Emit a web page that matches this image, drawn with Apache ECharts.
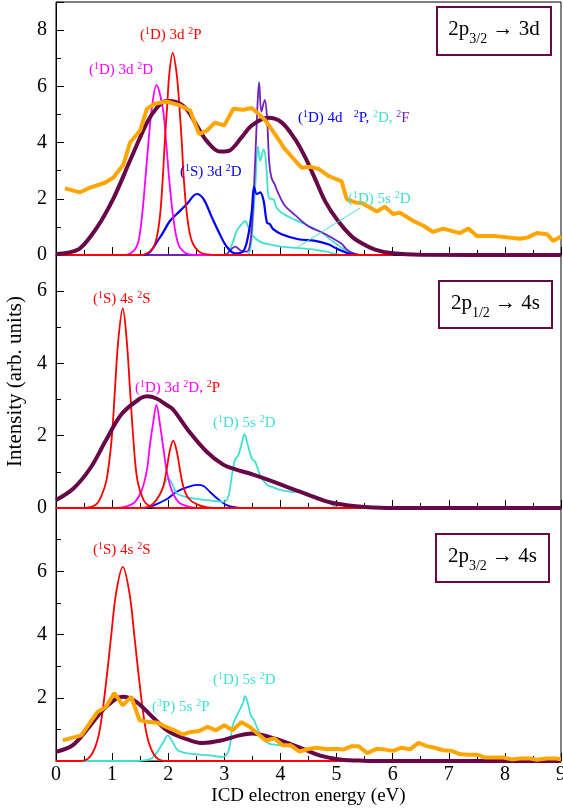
<!DOCTYPE html>
<html><head><meta charset="utf-8">
<script src="https://cdn.jsdelivr.net/npm/echarts@6/dist/echarts.min.js"></script>
<style>html,body{margin:0;padding:0;background:#fff}#c{width:563px;height:812px}</style>
</head><body><div id="c"></div>
<script>
// ---------------- DATA (energy eV, intensity arb. units) ----------------
// Panel 1 : 2p3/2 -> 3d
const p1Exp = [[0.16,2.37],[0.43,2.23],[0.61,2.4],[0.87,2.57],[1.02,2.75],[1.2,3.21],[1.32,4.0],[1.5,4.43],[1.62,5.2],[1.76,5.38],[1.97,5.46],[2.21,5.32],[2.39,5.14],[2.55,4.3],[2.69,4.43],[2.83,4.71],[3.0,4.61],[3.16,5.2],[3.34,5.17],[3.49,5.23],[3.58,5.08],[3.73,4.79],[3.9,4.31],[4.08,3.77],[4.26,3.36],[4.38,3.1],[4.53,3.14],[4.68,3.06],[4.85,2.82],[5.09,2.62],[5.18,1.99],[5.33,1.87],[5.45,1.85],[5.72,1.55],[5.86,1.72],[6.01,1.46],[6.13,1.5],[6.37,1.21],[6.55,1.04],[6.72,0.82],[6.9,0.94],[7.2,0.78],[7.35,0.94],[7.5,0.68],[7.79,0.68],[8.27,0.58],[8.4,0.62],[8.57,0.78],[8.75,0.74],[8.86,0.5],[9.0,0.66]];
const p1Total = [[0,0.03],[0.2,0.08],[0.43,0.24],[0.72,0.95],[1.02,2.0],[1.32,3.36],[1.62,4.7],[1.79,5.22],[1.96,5.48],[2.15,5.44],[2.33,5.18],[2.51,4.6],[2.69,4.05],[2.92,3.68],[3.07,3.7],[3.31,4.19],[3.49,4.61],[3.78,4.88],[4.02,4.72],[4.26,4.12],[4.44,3.48],[4.62,2.7],[4.8,1.9],[5.03,1.2],[5.27,0.66],[5.45,0.42],[5.7,0.18],[6.0,0.06],[6.5,0.01],[9,0]];
const p1Mag3d2D = [[0,0],[1.2,0],[1.38,0.14],[1.47,0.5],[1.53,1.33],[1.59,2.64],[1.65,4.07],[1.71,5.26],[1.79,6.04],[1.9,5.26],[1.96,4.07],[2.02,2.64],[2.09,1.33],[2.18,0.38],[2.3,0.08],[2.45,0],[6,0]];
const p1Red3d2P = [[0,0],[1.5,0],[1.68,0.14],[1.78,0.5],[1.85,1.33],[1.9,2.64],[1.94,4.07],[1.98,5.26],[2.02,6.45],[2.08,7.19],[2.15,6.45],[2.2,5.26],[2.24,4.07],[2.28,2.64],[2.34,1.33],[2.42,0.5],[2.54,0.14],[2.7,0.02],[2.9,0],[6,0]];
const p1Blue = [[0,0],[1.56,0],[1.85,0.62],[2.03,1.21],[2.21,1.57],[2.33,1.81],[2.51,2.17],[2.63,1.99],[2.78,1.33],[2.92,0.74],[3.04,0.3],[3.19,0.06],[3.34,0.14],[3.43,0.74],[3.49,1.57],[3.53,2.42],[3.58,2.17],[3.64,2.23],[3.7,1.93],[3.76,1.15],[3.81,1.1],[3.87,0.92],[4.02,0.74],[4.32,0.56],[4.62,0.5],[4.85,0.38],[5.03,0.2],[5.21,0.06],[5.4,0],[6,0]];
const p1Violet4d2F = [[0,0],[3.0,0],[3.1,0.15],[3.19,0.3],[3.3,0.15],[3.4,0.12],[3.45,0.3],[3.49,0.98],[3.55,3.36],[3.59,5.3],[3.62,6.15],[3.66,5.1],[3.72,5.52],[3.76,4.9],[3.8,3.3],[3.84,2.75],[3.9,2.5],[3.96,2.2],[4.08,1.75],[4.26,1.42],[4.5,1.02],[4.74,0.8],[4.91,0.62],[5.09,0.4],[5.18,0.2],[5.3,0.06],[5.45,0],[6,0]];
const p1Cyan4d2D = [[0,0],[3.4,0],[3.47,0.3],[3.52,1.5],[3.55,2.4],[3.6,3.85],[3.64,3.35],[3.7,3.76],[3.74,3.36],[3.78,2.17],[3.81,2.0],[3.87,1.99],[3.93,1.69],[4.02,1.5],[4.26,1.25],[4.5,1.04],[4.74,0.8],[4.91,0.52],[5.09,0.26],[5.27,0.06],[5.4,0],[6,0]];
const p1Cyan5s2D = [[0,0],[3.0,0],[3.07,0.08],[3.16,0.5],[3.22,0.86],[3.31,1.1],[3.37,1.21],[3.43,0.98],[3.49,0.74],[3.58,0.55],[3.67,0.44],[3.85,0.36],[4.02,0.3],[4.3,0.25],[4.53,0.21],[4.7,0.16],[4.83,0.12],[4.95,0.05],[5.1,0],[6,0]];

// Panel 2 : 2p1/2 -> 4s
const p2Total = [[0,0.22],[0.31,0.54],[0.61,1.1],[0.9,1.9],[1.17,2.6],[1.5,3.03],[1.62,3.09],[1.79,3.03],[1.97,2.85],[2.09,2.72],[2.36,2.14],[2.69,1.55],[2.98,1.2],[3.2,1.07],[3.5,0.93],[3.87,0.73],[4.17,0.55],[4.35,0.45],[4.59,0.31],[4.88,0.16],[5.18,0.08],[5.5,0.03],[6,0],[9,0]];
const p2Red4s2S = [[0,0],[0.5,0],[0.7,0.08],[0.8,0.3],[0.9,0.77],[0.99,1.88],[1.05,3.26],[1.11,4.64],[1.19,5.52],[1.26,4.64],[1.32,3.26],[1.38,1.88],[1.45,0.77],[1.56,0.22],[1.67,0.05],[1.8,0],[6,0]];
const p2Red3d2P = [[0,0],[1.5,0],[1.67,0.05],[1.79,0.22],[1.91,0.59],[1.97,1.05],[2.03,1.6],[2.09,1.86],[2.16,1.51],[2.21,1.05],[2.27,0.59],[2.36,0.27],[2.51,0.1],[2.7,0.02],[2.9,0],[6,0]];
const p2Mag3d2D = [[0,0],[1.1,0],[1.27,0.05],[1.41,0.17],[1.53,0.5],[1.62,1.05],[1.67,1.69],[1.73,2.34],[1.79,2.85],[1.85,2.34],[1.91,1.69],[1.97,1.05],[2.06,0.5],[2.18,0.17],[2.33,0.05],[2.5,0],[6,0]];
const p2Cyan = [[0,0],[1.5,0],[1.68,0.06],[1.85,0.36],[2.0,0.82],[2.08,0.64],[2.15,0.41],[2.33,0.3],[2.57,0.24],[2.8,0.2],[2.98,0.17],[3.07,0.31],[3.13,0.86],[3.19,1.33],[3.25,1.46],[3.31,1.79],[3.36,2.04],[3.41,1.79],[3.49,1.37],[3.55,1.28],[3.64,0.9],[3.76,0.64],[3.87,0.57],[3.99,0.5],[4.17,0.45],[4.35,0.44],[4.65,0.31],[4.88,0.13],[5.0,0.02],[5.2,0],[6,0]];
const p2Blue = [[0,0],[1.6,0],[1.68,0.03],[1.97,0.24],[2.15,0.45],[2.33,0.57],[2.51,0.64],[2.63,0.61],[2.74,0.45],[2.89,0.24],[3.04,0.08],[3.2,0.02],[3.4,0],[6,0]];

// Panel 3 : 2p3/2 -> 4s
const p3Exp = [[0.12,0.65],[0.45,0.81],[0.74,1.55],[0.89,1.71],[1.04,2.15],[1.19,1.76],[1.34,2.03],[1.49,1.29],[1.66,1.23],[1.81,1.21],[1.96,1.08],[2.11,0.97],[2.26,0.84],[2.41,0.92],[2.55,0.95],[2.7,1.08],[2.85,0.97],[3.0,1.13],[3.15,0.97],[3.3,1.23],[3.45,1.08],[3.59,0.87],[3.74,0.65],[3.89,0.71],[4.04,0.5],[4.18,0.5],[4.34,0.3],[4.5,0.38],[4.65,0.42],[4.83,0.37],[5.0,0.39],[5.12,0.36],[5.27,0.47],[5.39,0.47],[5.55,0.25],[5.72,0.39],[5.87,0.36],[6.01,0.32],[6.16,0.42],[6.31,0.37],[6.46,0.57],[6.61,0.47],[6.76,0.41],[6.9,0.34],[7.05,0.32],[7.21,0.21],[7.35,0.2],[7.5,0.2],[7.65,0.11],[7.79,0.11],[7.97,0.11],[8.12,0.05],[8.27,0.08],[8.45,0.08],[8.57,0.04],[8.75,0.08],[8.92,0.08],[9.0,0.05]];
const p3Total = [[0,0.29],[0.3,0.5],[0.59,1.08],[0.89,1.71],[1.19,2.03],[1.43,1.87],[1.72,1.39],[2.02,0.92],[2.38,0.66],[2.61,0.57],[2.97,0.66],[3.27,0.81],[3.5,0.87],[3.8,0.76],[4.16,0.55],[4.46,0.34],[4.71,0.17],[5.06,0.05],[5.47,0.01],[6,0],[9,0]];
const p3Red4s2S = [[0,0],[0.45,0],[0.6,0.12],[0.72,0.55],[0.8,1.2],[0.9,2.6],[0.98,3.9],[1.07,5.3],[1.19,6.14],[1.31,5.3],[1.4,3.9],[1.48,2.6],[1.58,1.2],[1.66,0.55],[1.78,0.12],[1.93,0],[6,0]];
const p3Cyan = [[0,0],[1.4,0],[1.6,0.03],[1.72,0.1],[1.9,0.55],[1.99,0.81],[2.08,0.6],[2.17,0.34],[2.38,0.23],[2.73,0.18],[2.97,0.13],[3.08,0.35],[3.15,1.13],[3.24,1.5],[3.33,1.82],[3.37,2.05],[3.42,1.82],[3.47,1.45],[3.53,1.29],[3.59,1.03],[3.68,0.71],[3.8,0.55],[3.98,0.5],[4.2,0.45],[4.4,0.38],[4.65,0.22],[4.88,0.08],[5.0,0.02],[5.2,0],[6,0]];

// axis settings
const xMin = 0, xMax = 9, xStep = 1;
const yMax = [9, 7, 8];
const yStep = 2;
const xTitle = 'ICD electron energy (eV)';
const yTitle = 'Intensity (arb. units)';

// ---------------- STYLE ----------------
const C = {red:'#ff0000', mag:'#ff00ff', blue:'#0000ff', cyan:'#40e0d0', violet:'#7221bc', maroon:'#670748', orange:'#ffa500'};
const FONT = 'Liberation Serif';
const gridTops = [2, 255, 508];
const gridH = 253;

const chart = echarts.init(document.getElementById('c'), null, {renderer:'canvas'});

function line(data, color, width, gi, smooth, z) {
  return {type:'line', xAxisIndex:gi, yAxisIndex:gi, data:data, showSymbol:false, symbol:'none',
    smooth: smooth ? 0.35 : false, lineStyle:{color:color, width:width}, z:z, silent:true, animation:false};
}

const grids = gridTops.map(t => ({left:56, top:t, width:505, height:gridH, show:true, borderColor:'#000', borderWidth:1,
  backgroundColor:'transparent', containLabel:false, outerBoundsMode:'none'}));
const xAxes = [0,1,2].map(i => ({
  type:'value', gridIndex:i, min:xMin, max:xMax, interval:xStep,
  axisLine:{show:true, onZero:false, lineStyle:{color:'#000', width:1}},
  axisTick:{show:true, inside:true, length:8, lineStyle:{color:'#000', width:1}},
  minorTick:{show:true, splitNumber:2, length:5, lineStyle:{color:'#000', width:1}},
  splitLine:{show:false}, minorSplitLine:{show:false},
  axisLabel:{show:i===2, color:'#000', fontFamily:FONT, fontSize:20, margin:4, hideOverlap:false},
  name: i===2 ? xTitle : '', nameLocation:'middle', nameGap:26,
  nameTextStyle:{color:'#000', fontFamily:FONT, fontSize:19}
}));
const yAxes = [0,1,2].map(i => ({
  type:'value', gridIndex:i, min:0, max:yMax[i], interval:yStep,
  axisLine:{show:true, onZero:false, lineStyle:{color:'#000', width:1}},
  axisTick:{show:true, inside:true, length:8, lineStyle:{color:'#000', width:1}},
  minorTick:{show:true, splitNumber:2, length:5, lineStyle:{color:'#000', width:1}},
  splitLine:{show:false}, minorSplitLine:{show:false},
  axisLabel:{color:'#000', fontFamily:FONT, fontSize:20, margin:9,
    formatter: v => (v === yMax[i] || (i === 2 && v === 0)) ? '' : String(v)},
  name: i===1 ? yTitle : '', nameLocation:'middle', nameGap:19, nameRotate:90,
  nameTextStyle:{color:'#000', fontFamily:FONT, fontSize:21}
}));

const series = [
  // panel 1
  line(p1Cyan5s2D, C.cyan, 1.8, 0, true, 2),
  line(p1Cyan4d2D, C.cyan, 1.8, 0, true, 2),
  line(p1Violet4d2F, C.violet, 1.8, 0, true, 2),
  line(p1Blue, C.blue, 2.2, 0, true, 3),
  line(p1Mag3d2D, C.mag, 1.8, 0, true, 3),
  line(p1Red3d2P, C.red, 1.8, 0, true, 3),
  line(p1Total, C.maroon, 4, 0, true, 4),
  line(p1Exp, C.orange, 4, 0, false, 5),
  // panel 2
  line(p2Blue, C.blue, 1.8, 1, true, 2),
  line(p2Cyan, C.cyan, 1.8, 1, true, 2),
  line(p2Mag3d2D, C.mag, 1.8, 1, true, 3),
  line(p2Red3d2P, C.red, 1.8, 1, true, 3),
  line(p2Red4s2S, C.red, 1.8, 1, true, 3),
  line(p2Total, C.maroon, 4, 1, true, 4),
  // panel 3
  line(p3Cyan, C.cyan, 1.8, 2, true, 2),
  line(p3Red4s2S, C.red, 1.8, 2, true, 3),
  line(p3Total, C.maroon, 4, 2, true, 4),
  line(p3Exp, C.orange, 4, 2, false, 5)
];

// ---------------- ANNOTATIONS ----------------
function tok(color, size, lh, va) {
  const o = {fill:color, color:color, fontFamily:FONT, fontSize:size, lineHeight:lh};
  if (va) o.verticalAlign = va;
  return o;
}
function labelRich(colors) {
  const r = {};
  for (const k in colors) {
    r[k] = tok(colors[k], 15, 18);
    r[k + 's'] = tok(colors[k], 10, 12, 'top');
  }
  return r;
}
const labels = [
  {x:140, y:35.5, text:'{r|(}{rs|1}{r|D) 3d }{rs|2}{r|P}', rich:labelRich({r:C.red})},
  {x:89, y:70.5, text:'{m|(}{ms|1}{m|D) 3d }{ms|2}{m|D}', rich:labelRich({m:C.mag})},
  {x:180, y:172, text:'{b|(}{bs|1}{b|S) 3d }{bs|2}{b|D}', rich:labelRich({b:C.blue})},
  {x:298, y:118, text:'{b|(}{bs|1}{b|D) 4d   }{bs|2}{b|P, }{cs|2}{c|D, }{vs|2}{v|F}', rich:labelRich({b:C.blue, c:C.cyan, v:C.violet})},
  {x:348, y:199.5, text:'{c|(}{cs|1}{c|D) 5s }{cs|2}{c|D}', rich:labelRich({c:C.cyan})},
  {x:93, y:299, text:'{r|(}{rs|1}{r|S) 4s }{rs|2}{r|S}', rich:labelRich({r:C.red})},
  {x:135, y:388, text:'{m|(}{ms|1}{m|D) 3d }{ms|2}{m|D, }{rs|2}{r|P}', rich:labelRich({m:C.mag, r:C.red})},
  {x:213, y:423, text:'{c|(}{cs|1}{c|D) 5s }{cs|2}{c|D}', rich:labelRich({c:C.cyan})},
  {x:93, y:550.5, text:'{r|(}{rs|1}{r|S) 4s }{rs|2}{r|S}', rich:labelRich({r:C.red})},
  {x:152, y:707, text:'{c|(}{cs|3}{c|P) 5s }{cs|2}{c|P}', rich:labelRich({c:C.cyan})},
  {x:213, y:680.5, text:'{c|(}{cs|1}{c|D) 5s }{cs|2}{c|D}', rich:labelRich({c:C.cyan})}
];
const boxes = [
  {x:437, y:7, w:114, h:48, sub:'3/2', tail:' \u2192 3d'},
  {x:439, y:281, w:113, h:47, sub:'1/2', tail:' \u2192 4s'},
  {x:436, y:534, w:113, h:48, sub:'3/2', tail:' \u2192 4s'}
];
const boxRich = {
  m: {fill:'#000', fontFamily:FONT, fontSize:21, lineHeight:34},
  s: {fill:'#000', fontFamily:FONT, fontSize:14, lineHeight:14, verticalAlign:'bottom'}
};

const graphic = [];
labels.forEach(l => graphic.push({type:'text', x:l.x, y:l.y, z:50, silent:true,
  style:{text:l.text, rich:l.rich, align:'left', verticalAlign:'middle', textAlign:'left', textVerticalAlign:'middle', fontFamily:FONT, fontSize:15}}));
boxes.forEach(b => {
  graphic.push({type:'rect', z:50, silent:true, shape:{x:b.x, y:b.y, width:b.w, height:b.h},
    style:{fill:'#fff', stroke:C.maroon, lineWidth:2}});
  graphic.push({type:'text', z:51, silent:true, x:b.x + b.w/2, y:b.y + b.h/2 - 1.5,
    style:{text:'{m|2p}{s|' + b.sub + '}{m|' + b.tail + '}', rich:boxRich, align:'center', verticalAlign:'middle', textAlign:'center', textVerticalAlign:'middle', fontFamily:FONT, fontSize:21}});
});
// pointer line for (1D) 5s 2D label in panel 1
graphic.push({type:'line', z:49, silent:true, shape:{x1:360, y1:208, x2:298, y2:247}, style:{stroke:C.cyan, lineWidth:1}});

chart.setOption({
  animation:false,
  backgroundColor:'#fff',
  textStyle:{fontFamily:FONT},
  grid:grids, xAxis:xAxes, yAxis:yAxes, series:series, graphic:graphic
});
</script></body></html>
